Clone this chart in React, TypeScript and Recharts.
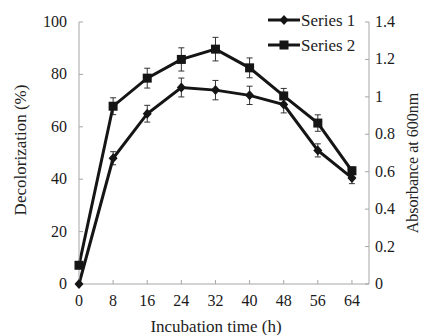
import { LineChart, Line, XAxis, YAxis, ErrorBar, Legend, Label } from 'recharts';

const hours = [0, 8, 16, 24, 32, 40, 48, 56, 64];
const series1 = [0, 48, 65, 75, 74, 72, 68.5, 51, 40.5];
const series1Err = [0, 2.5, 3.2, 3.6, 3.7, 3.5, 3.2, 2.5, 2.2];
const series2 = [0.1, 0.95, 1.1, 1.2, 1.255, 1.155, 1.005, 0.86, 0.605];
const series2Err = [0, 0.045, 0.053, 0.062, 0.063, 0.053, 0.04, 0.044, 0.02];

const xTicks = [0, 8, 16, 24, 32, 40, 48, 56, 64];
const leftTicks = [0, 20, 40, 60, 80, 100];
const rightTicks = [0, 0.2, 0.4, 0.6, 0.8, 1, 1.2, 1.4];

const data = hours.map((h, i) => ({
  hour: h,
  s1: series1[i],
  s1Err: series1Err[i],
  s2: series2[i],
  s2Err: series2Err[i],
}));

const INK = '#151515';
const AXIS = '#a6a6a6';
const FONT = 'Liberation Serif, Times New Roman, DejaVu Serif, serif';
const txt = { fontFamily: FONT };

const Diamond = (props: { cx?: number; cy?: number }) => {
  const { cx, cy } = props;
  if (cx === undefined || cy === undefined) return null;
  return <path d={`M${cx},${cy - 5}L${cx + 4.5},${cy}L${cx},${cy + 5}L${cx - 4.5},${cy}Z`} fill={INK} />;
};

const Square = (props: { cx?: number; cy?: number }) => {
  const { cx, cy } = props;
  if (cx === undefined || cy === undefined) return null;
  return <rect x={cx - 4.5} y={cy - 4.5} width={9} height={9} fill={INK} />;
};

// tick text; side decides anchor and baseline shift
const AxisTick = (props: any) => {
  const { x, y, payload, side } = props;
  const anchor = side === 'left' ? 'end' : side === 'right' ? 'start' : 'middle';
  const dy = side === 'bottom' ? 14 : 5;
  return (
    <text x={x} y={y + dy} textAnchor={anchor} fontSize={16} style={txt} fill="#1a1a1a">
      {payload.value}
    </text>
  );
};

const LegendContent = () => (
  <svg width={110} height={60} style={{ display: 'block' }}>
    <line x1={6} y1={20} x2={38} y2={20} stroke={INK} strokeWidth={3} />
    <Diamond cx={22} cy={20} />
    <text x={39} y={25.5} fontSize={17} style={txt} fill="#222">Series 1</text>
    <line x1={6} y1={45} x2={38} y2={45} stroke={INK} strokeWidth={3} />
    <Square cx={22} cy={45} />
    <text x={39} y={50.5} fontSize={17} style={txt} fill="#222">Series 2</text>
  </svg>
);

export default function App() {
  return (
    <div style={{ position: 'absolute', left: 0, top: 0, width: 424, height: 335, background: '#fff', fontFamily: FONT }}>
      <LineChart width={424} height={335} data={data} margin={{ top: 22, right: 0, bottom: 1, left: 0 }}>
        <XAxis
          dataKey="hour"
          type="number"
          domain={[0, 68]}
          ticks={xTicks}
          height={50}
          stroke={AXIS}
          tickSize={-4}
          tickMargin={12}
          tick={<AxisTick side="bottom" />}
        >
          <Label
            content={() => (
              <text x={216} y={332} textAnchor="middle" fontSize={17} style={txt} fill="#222">
                Incubation time (h)
              </text>
            )}
          />
        </XAxis>
        <YAxis
          yAxisId="left"
          domain={[0, 100]}
          ticks={leftTicks}
          width={79}
          stroke={AXIS}
          tickSize={-4}
          tickMargin={16}
          tick={<AxisTick side="left" />}
        >
          <Label
            content={() => (
              <text
                x={26}
                y={150}
                textAnchor="middle"
                fontSize={17}
                style={txt}
                fill="#222"
                transform="rotate(-90 26 150)"
              >
                Decolorization (%)
              </text>
            )}
          />
        </YAxis>
        <YAxis
          yAxisId="right"
          orientation="right"
          domain={[0, 1.4]}
          ticks={rightTicks}
          width={55}
          stroke={AXIS}
          tickSize={-4}
          tickMargin={10}
          tick={<AxisTick side="right" />}
        >
          <Label
            content={() => (
              <text
                x={418}
                y={163}
                textAnchor="middle"
                fontSize={16}
                style={txt}
                fill="#222"
                transform="rotate(-90 418 163)"
              >
                Absorbance at 600nm
              </text>
            )}
          />
        </YAxis>
        <Legend
          layout="horizontal"
          verticalAlign="middle"
          align="center"
          content={<LegendContent />}
          wrapperStyle={{ position: 'absolute', left: 262, top: 0, width: 110, height: 60 }}
        />
        <Line
          yAxisId="left"
          dataKey="s1"
          name="Series 1"
          stroke={INK}
          strokeWidth={3}
          dot={<Diamond />}
          activeDot={false}
          isAnimationActive={false}
        >
          <ErrorBar dataKey="s1Err" direction="y" width={3} stroke="#333" strokeWidth={1} />
        </Line>
        <Line
          yAxisId="right"
          dataKey="s2"
          name="Series 2"
          stroke={INK}
          strokeWidth={3}
          dot={<Square />}
          activeDot={false}
          isAnimationActive={false}
        >
          <ErrorBar dataKey="s2Err" direction="y" width={3} stroke="#333" strokeWidth={1} />
        </Line>
      </LineChart>
    </div>
  );
}
